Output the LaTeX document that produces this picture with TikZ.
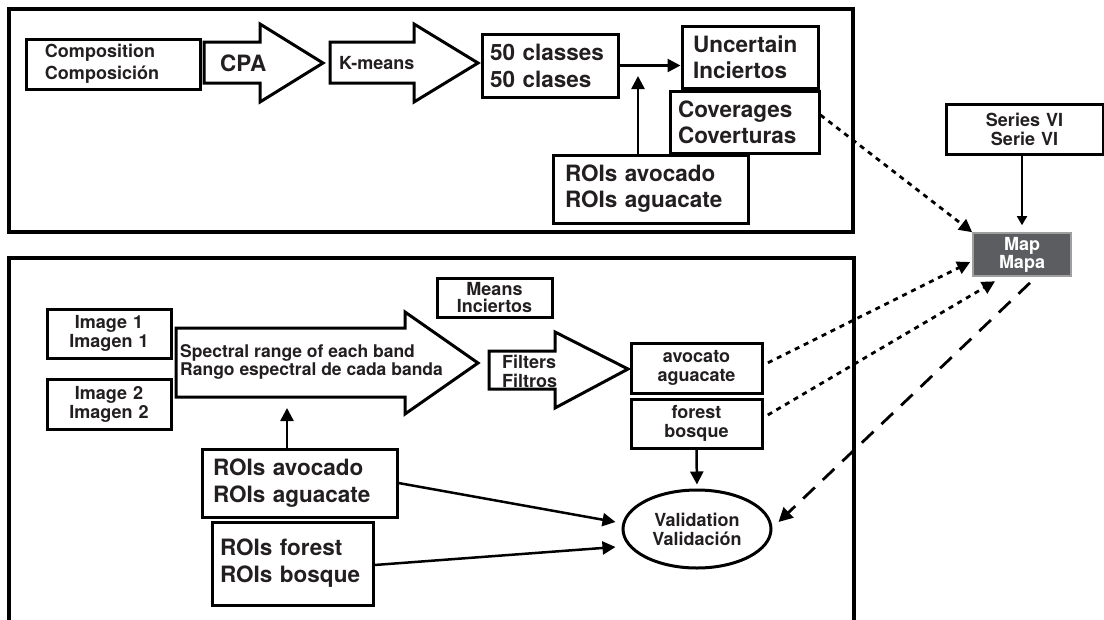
\documentclass[tikz,border=0pt]{standalone}
\usepackage{fontspec}
\setmainfont{TeX Gyre Heros}
\usetikzlibrary{arrows.meta,shapes.geometric}
\definecolor{ink}{HTML}{231F20}
\definecolor{mapgray}{HTML}{5C5D60}
\tikzset{
	box/.style={draw,line width=3pt,inner xsep=0pt,inner ysep=0pt,text=ink},
	sm/.style={font=\bfseries\fontsize{18}{19}\selectfont},
	lg/.style={font=\bfseries\fontsize{22.5}{27}\selectfont},
	lbl/.style={anchor=west,inner sep=0pt,text=ink,align=left},
	blockarr/.style={draw,fill=white,line width=3pt,line join=miter},
	frame/.style={line width=3.2pt},
	conn/.style={line width=2.5pt,-{Triangle[length=13pt,width=13pt]}},
	dots/.style={line width=2.8pt,dash pattern=on 5pt off 5pt,-{Triangle[length=13pt,width=13pt]}},
	longdash/.style={line width=2.8pt,dash pattern=on 16pt off 11pt,-{Triangle[length=14pt,width=14pt]}},
}
\begin{document}
\begin{tikzpicture}[x=1pt,y=-1pt]
		\useasboundingbox (0,0) rectangle (1104,619);
		\clip (0,0) rectangle (1104,619);
		\draw[frame] (9,9) rectangle (853,232);
		\draw[frame] (9,630) -- (9,258) -- (854,258) -- (854,630);
		\draw[blockarr] (204,42) -- (260,42) -- (260,24) -- (323,63) -- (260,102) -- (260,83) -- (204,83) -- cycle;
		\draw[blockarr] (330,42) -- (414,42) -- (414,24) -- (478,63) -- (414,102) -- (414,83) -- (330,83) -- cycle;
		\draw[blockarr] (176,328) -- (405,328) -- (405,312) -- (478,363) -- (405,414) -- (405,397) -- (176,397) -- cycle;
		\draw[blockarr] (489,351) -- (555,351) -- (555,332) -- (628,369) -- (555,408) -- (555,389) -- (489,389) -- cycle;
		\node[lbl,lg] (cpa) at (220,63) {CPA};
		\node[lbl,sm] (kmeans) at (339,63) {K-means};
		\node[lbl,sm,font=\bfseries\fontsize{17.5}{18}\selectfont] (spectral) at (180,362) {Spectral range of each band\\Rango espectral de cada banda};
		\node[lbl,sm] (filters) at (502,371) {Filters\\Filtros};
		\node[box,sm,font=\bfseries\fontsize{18}{22}\selectfont,text width=136,inner xsep=19,minimum height=50,align=left] (comp) at (113,64) {Composition\\Composición};
		\node[box,lg,text width=120,inner xsep=8,minimum height=63,align=left] (classes) at (550,65.5) {50 classes\\50 clases};
		\node[box,lg,font=\bfseries\fontsize{22.5}{26}\selectfont,text width=114,inner xsep=11,minimum height=62,align=left] (uncert) at (750,57) {Uncertain\\Inciertos};
		\node[box,lg,font=\bfseries\fontsize{22.5}{26}\selectfont,text width=133,inner xsep=8,minimum height=62,align=left] (cover) at (744.5,122) {Coverages\\Coverturas};
		\node[box,lg,font=\bfseries\fontsize{22.5}{26}\selectfont,text width=171,inner xsep=12,minimum height=68,align=left] (roistop) at (650.5,189) {ROIs avocado\\ROIs aguacate};
		\node[box,sm,text width=157,minimum height=50,align=center] (series) at (1024.5,129) {Series VI\\Serie VI};
		\node[box,sm,draw=gray!75,line width=1.6pt,fill=mapgray,text=white,font=\bfseries\fontsize{18}{17}\selectfont,text width=98,minimum height=43,align=center] (map) at (1022,254.5) {Map\\Mapa};
		\node[box,sm,font=\bfseries\fontsize{18}{17}\selectfont,text width=115,minimum height=39,align=center] (means) at (494.5,297.5) {Means\\Inciertos};
		\node[box,sm,text width=124,minimum height=49,align=center] (img1) at (109,333.5) {Image 1\\Imagen 1};
		\node[box,sm,text width=124,minimum height=50,align=center] (img2) at (109,404) {Image 2\\Imagen 2};
		\node[box,sm,text width=131,minimum height=50,align=center] (avoc) at (696.5,368) {avocato\\aguacate};
		\node[box,sm,text width=131,minimum height=49,align=center] (forest) at (696.5,423.5) {forest\\bosque};
		\node[box,sm,ellipse,minimum width=148,minimum height=78,align=center] (valid) at (697,529) {Validation\\Validación};
		\node[box,lg,text width=173,inner xsep=11,minimum height=68,align=left] (roisav) at (299.5,483) {ROIs avocado\\ROIs aguacate};
		\node[box,lg,text width=145,inner xsep=8,minimum height=83,align=left] (roisfo) at (292.5,563.5) {ROIs forest\\ROIs bosque};
		\coordinate (meet) at (638,76);
		\coordinate (specin) at (287,408);
		\draw[conn] (classes.east) -- (classes.east -| uncert.west);
		\draw[conn] (roistop.north -| meet) -- (meet);
		\draw[dots] ([yshift=7pt]cover.east) -- (map.north west);
		\draw[line width=1.8pt,-{Triangle[length=9pt,width=10pt]}] (series.south -| map.north) -- ([yshift=7pt]map.north);
		\draw[dots,shorten <=5pt] ([yshift=3pt]avoc.east) -- ([xshift=-2pt,yshift=-7.5pt]map.west);
		\draw[dots,shorten <=5pt] ([yshift=6pt]forest.east) -- ([xshift=-27pt,yshift=-4.5pt]map.south);
		\draw[longdash] ([xshift=8pt,yshift=-6pt]map.south) -- ([xshift=6pt,yshift=7pt]valid.east);
		\draw[conn,shorten >=4pt] (forest.south) -- (valid.north);
		\draw[conn] (roisav.north -| specin) -- (specin);
		\draw[conn] (roisav.east) -- ([xshift=-6pt,yshift=7pt]valid.west);
		\draw[conn] ([yshift=-1.5pt]roisfo.east) -- ([xshift=-6pt,yshift=-18pt]valid.west);
	\end{tikzpicture}
\end{document}
